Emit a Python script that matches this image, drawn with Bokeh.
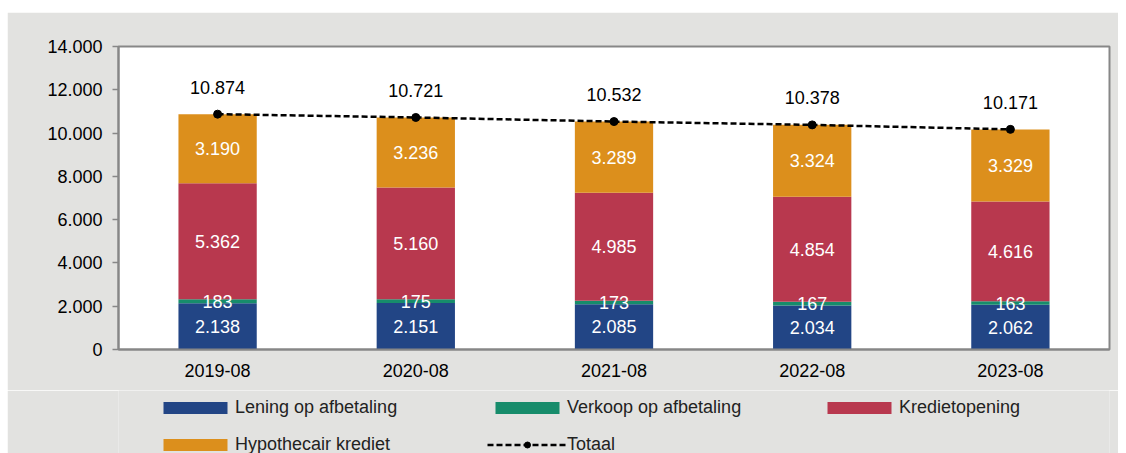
from bokeh.plotting import figure
from bokeh.models import ColumnDataSource, FactorRange, FixedTicker, Legend, LegendItem, Range1d
from bokeh.layouts import column
from bokeh.core.properties import value
from bokeh.embed import file_html
from bokeh.resources import INLINE

# ---- data ----
periods = ["2019-08", "2020-08", "2021-08", "2022-08", "2023-08"]
lening = [2138, 2151, 2085, 2034, 2062]
verkoop = [183, 175, 173, 167, 163]
krediet = [5362, 5160, 4985, 4854, 4616]
hypo = [3190, 3236, 3289, 3324, 3329]
totaal = [10874, 10721, 10532, 10378, 10171]
series_names = ["Lening op afbetaling", "Verkoop op afbetaling", "Kredietopening", "Hypothecair krediet"]
total_name = "Totaal"
y_ticks = [0, 2000, 4000, 6000, 8000, 10000, 12000, 14000]
y_tick_labels = ["0", "2.000", "4.000", "6.000", "8.000", "10.000", "12.000", "14.000"]

colors = ["#224585", "#178c6b", "#b8384e", "#dc8f1c"]
FONT = "Liberation Sans"
GREY_BG = "#e2e2e0"
FRAME = "#878787"
BLUE_RULE = "#1f6fc0"
DASH = "6 3"


def fmt(v):
    return f"{v:,}".replace(",", ".")


keys = ["lening", "verkoop", "krediet", "hypo"]
data = dict(periods=periods, lening=lening, verkoop=verkoop, krediet=krediet, hypo=hypo, totaal=totaal)
src = ColumnDataSource(data)

# segment label positions
lx, ly, lt = [], [], []
for i, per in enumerate(periods):
    base = 0
    for arr in (lening, verkoop, krediet, hypo):
        v = arr[i]
        lx.append(per)
        ly.append(base + v / 2)
        lt.append(fmt(v))
        base += v
seg_src = ColumnDataSource(dict(x=lx, y=ly, t=lt))
tot_src = ColumnDataSource(dict(x=periods, y=totaal, t=[fmt(v) for v in totaal]))

# ---- top blue rule ----
top = figure(width=1126, height=2, toolbar_location=None, output_backend="svg",
             x_range=Range1d(0, 1), y_range=Range1d(0, 1), margin=(10, 0, 0, 0),
             min_border_left=0, min_border_right=0, min_border_top=0, min_border_bottom=0)
top.axis.visible = False
top.grid.visible = False
top.outline_line_color = None
top.background_fill_color = BLUE_RULE
top.border_fill_color = BLUE_RULE

# ---- main chart ----
p = figure(width=1111, height=378, toolbar_location=None, output_backend="svg",
           x_range=FactorRange(*periods, range_padding=0), y_range=Range1d(0, 14000),
           margin=(0, 0, 0, 7),
           min_border_left=111, min_border_right=9, min_border_top=34, min_border_bottom=41)
p.background_fill_color = "white"
p.border_fill_color = GREY_BG
p.outline_line_color = FRAME
p.outline_line_width = 2
p.grid.visible = False

bars = p.vbar_stack(keys, x="periods", width=0.395, color=colors, source=src, line_width=0)

line_r = p.line(x="periods", y="totaal", source=src, line_color="black", line_width=2.5, line_dash=DASH)
dot_r = p.scatter(x="periods", y="totaal", source=src, size=8, color="black")

p.text(x="x", y="y", text="t", source=seg_src, text_color="white",
       text_font=value(FONT), text_font_size="18px", text_align="center", text_baseline="middle")
p.text(x="x", y="y", text="t", source=tot_src, text_color="black", y_offset=-27,
       text_font=value(FONT), text_font_size="18px", text_align="center", text_baseline="middle")

# axes
p.yaxis.ticker = FixedTicker(ticks=y_ticks)
p.yaxis.major_label_overrides = {t: l for t, l in zip(y_ticks, y_tick_labels)}
p.yaxis.minor_tick_line_color = None
p.yaxis.major_tick_in = 0
p.yaxis.major_tick_out = 6
p.yaxis.major_tick_line_color = FRAME
p.yaxis.major_tick_line_width = 1.5
p.yaxis.axis_line_color = FRAME
p.yaxis.axis_line_width = 2
p.yaxis.major_label_standoff = 10
p.yaxis.major_label_text_font = FONT
p.yaxis.major_label_text_font_size = "18px"
p.yaxis.major_label_text_color = "black"

p.xaxis.major_tick_line_color = None
p.xaxis.minor_tick_line_color = None
p.xaxis.axis_line_color = FRAME
p.xaxis.axis_line_width = 2
p.xaxis.major_label_standoff = 8
p.xaxis.major_label_text_font = FONT
p.xaxis.major_label_text_font_size = "18px"
p.xaxis.major_label_text_color = "black"

# ---- legend strip (own figure so nothing is clipped) ----
# same series drawn here, but outside this strip's visible y-range, so only the legend shows
lg = figure(width=1111, height=63, toolbar_location=None, output_backend="svg",
            x_range=FactorRange(*periods, range_padding=0), y_range=Range1d(100000, 100001),
            margin=(0, 0, 0, 7),
            min_border_left=0, min_border_right=0, min_border_top=0, min_border_bottom=0)
lg.axis.visible = False
lg.grid.visible = False
lg.outline_line_color = None
lg.background_fill_color = GREY_BG
lg.border_fill_color = GREY_BG

leg_rs = lg.vbar_stack(keys, x="periods", width=0.395, color=colors, source=src, line_width=0)
leg_line = lg.line(x="periods", y="totaal", source=src, line_color="black", line_width=2.5, line_dash=DASH)
leg_dot = lg.scatter(x="periods", y="totaal", source=src, size=8, color="black")

items = [LegendItem(label=n, renderers=[r]) for n, r in zip(series_names, leg_rs)]
items.append(LegendItem(label=total_name, renderers=[leg_line, leg_dot]))
legend = Legend(items=items, location=(37, -2), orientation="horizontal", ncols=3,
                glyph_width=80, glyph_height=15, label_standoff=0, label_width=236, label_height=20,
                spacing=16, padding=0, margin=0,
                label_text_font=FONT, label_text_font_size="18px", label_text_color="#222222",
                background_fill_alpha=0, border_line_color=None)
lg.add_layout(legend, "center")

layout = column(top, p, lg, spacing=0)
open("out.html", "w").write(file_html(layout, INLINE))
